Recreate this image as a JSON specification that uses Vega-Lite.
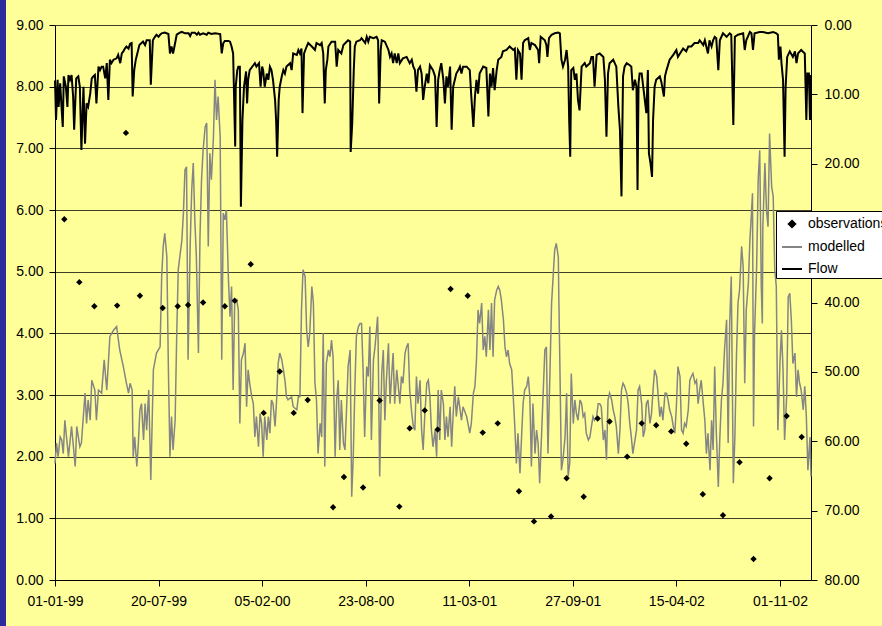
{
"$schema": "https://vega.github.io/schema/vega-lite/v6.json",
"width": 756, "height": 555,
"autosize": {"type": "none"},
"padding": {"left": 55, "top": 25, "right": 71, "bottom": 46},
"background": "#FFFF99",
"config": {
  "view": {"stroke": null},
  "font": "Liberation Sans",
  "axis": {"labelFont": "Liberation Sans", "labelFontSize": 14, "labelColor": "#000000", "domainColor": "#000000", "tickColor": "#000000", "tickSize": 6, "title": null, "domainWidth": 1, "tickWidth": 1},
  "legend": {"labelFont": "Liberation Sans", "labelFontSize": 14, "labelColor": "#000000"}
},
"datasets": {
"obs": [{"day":18,"value":5.85},{"day":47,"value":4.83},{"day":76,"value":4.44},{"day":120,"value":4.45},{"day":137,"value":7.25},{"day":164,"value":4.61},{"day":208,"value":4.41},{"day":237,"value":4.44},{"day":257,"value":4.46},{"day":286,"value":4.5},{"day":328,"value":4.44},{"day":347,"value":4.53},{"day":378,"value":5.12},{"day":403,"value":2.71},{"day":434,"value":3.38},{"day":461,"value":2.71},{"day":488,"value":2.92},{"day":537,"value":1.18},{"day":558,"value":1.67},{"day":595,"value":1.5},{"day":627,"value":2.91},{"day":665,"value":1.19},{"day":685,"value":2.46},{"day":714,"value":2.75},{"day":739,"value":2.44},{"day":764,"value":4.72},{"day":797,"value":4.61},{"day":826,"value":2.39},{"day":855,"value":2.54},{"day":896,"value":1.44},{"day":925,"value":0.95},{"day":958,"value":1.03},{"day":988,"value":1.65},{"day":1021,"value":1.35},{"day":1048,"value":2.62},{"day":1071,"value":2.57},{"day":1105,"value":2.0},{"day":1133,"value":2.54},{"day":1161,"value":2.51},{"day":1190,"value":2.41},{"day":1219,"value":2.21},{"day":1251,"value":1.39},{"day":1290,"value":1.05},{"day":1322,"value":1.91},{"day":1349,"value":0.34},{"day":1380,"value":1.65},{"day":1413,"value":2.66},{"day":1442,"value":2.32}],
"modelled": [{"day":0,"value":1.89},{"day":3,"value":2.22},{"day":6,"value":2.0},{"day":10,"value":2.32},{"day":13,"value":2.27},{"day":16,"value":2.05},{"day":19,"value":2.59},{"day":26,"value":2.0},{"day":32,"value":2.49},{"day":39,"value":1.84},{"day":42,"value":2.49},{"day":48,"value":2.16},{"day":51,"value":2.22},{"day":58,"value":3.03},{"day":61,"value":2.54},{"day":64,"value":2.92},{"day":68,"value":2.59},{"day":71,"value":3.24},{"day":77,"value":3.08},{"day":80,"value":2.59},{"day":84,"value":3.08},{"day":90,"value":3.03},{"day":95,"value":3.57},{"day":100,"value":3.08},{"day":106,"value":3.95},{"day":113,"value":4.05},{"day":119,"value":4.11},{"day":125,"value":3.73},{"day":132,"value":3.46},{"day":138,"value":3.19},{"day":142,"value":3.03},{"day":145,"value":3.19},{"day":149,"value":3.08},{"day":151,"value":2.0},{"day":154,"value":2.32},{"day":158,"value":1.84},{"day":161,"value":2.22},{"day":164,"value":2.76},{"day":167,"value":2.86},{"day":171,"value":2.27},{"day":174,"value":2.86},{"day":177,"value":2.43},{"day":181,"value":3.08},{"day":185,"value":1.62},{"day":190,"value":3.41},{"day":196,"value":3.68},{"day":203,"value":3.78},{"day":206,"value":4.92},{"day":209,"value":5.41},{"day":212,"value":5.62},{"day":216,"value":5.24},{"day":219,"value":3.41},{"day":222,"value":2.0},{"day":225,"value":2.65},{"day":228,"value":2.11},{"day":232,"value":2.59},{"day":235,"value":3.95},{"day":238,"value":5.03},{"day":245,"value":5.51},{"day":248,"value":5.95},{"day":251,"value":6.65},{"day":254,"value":6.7},{"day":257,"value":3.57},{"day":261,"value":5.41},{"day":264,"value":6.32},{"day":267,"value":6.76},{"day":270,"value":5.84},{"day":273,"value":5.24},{"day":277,"value":3.68},{"day":280,"value":5.57},{"day":283,"value":6.49},{"day":286,"value":6.97},{"day":290,"value":7.35},{"day":293,"value":7.41},{"day":296,"value":5.41},{"day":299,"value":6.92},{"day":302,"value":6.49},{"day":306,"value":7.19},{"day":309,"value":8.11},{"day":312,"value":7.46},{"day":315,"value":7.84},{"day":319,"value":7.19},{"day":322,"value":3.57},{"day":325,"value":5.95},{"day":328,"value":5.84},{"day":331,"value":6.0},{"day":335,"value":4.86},{"day":338,"value":4.27},{"day":341,"value":4.76},{"day":344,"value":3.08},{"day":347,"value":4.49},{"day":351,"value":4.54},{"day":354,"value":4.38},{"day":357,"value":2.54},{"day":360,"value":3.57},{"day":364,"value":3.68},{"day":367,"value":3.84},{"day":370,"value":2.81},{"day":373,"value":3.41},{"day":376,"value":3.19},{"day":380,"value":2.97},{"day":383,"value":2.86},{"day":386,"value":2.32},{"day":389,"value":2.65},{"day":393,"value":2.16},{"day":396,"value":2.7},{"day":399,"value":2.54},{"day":402,"value":2.0},{"day":405,"value":2.65},{"day":409,"value":2.27},{"day":412,"value":2.65},{"day":415,"value":2.38},{"day":418,"value":2.92},{"day":421,"value":2.86},{"day":425,"value":2.49},{"day":428,"value":2.92},{"day":431,"value":3.51},{"day":434,"value":3.68},{"day":438,"value":3.57},{"day":441,"value":3.41},{"day":444,"value":3.24},{"day":447,"value":2.97},{"day":450,"value":2.92},{"day":457,"value":2.97},{"day":460,"value":2.81},{"day":467,"value":2.76},{"day":470,"value":2.97},{"day":473,"value":2.97},{"day":476,"value":4.38},{"day":479,"value":5.03},{"day":483,"value":4.92},{"day":486,"value":4.05},{"day":489,"value":3.78},{"day":492,"value":4.0},{"day":496,"value":4.76},{"day":499,"value":4.49},{"day":502,"value":3.19},{"day":505,"value":2.92},{"day":508,"value":2.05},{"day":512,"value":2.54},{"day":515,"value":2.32},{"day":518,"value":4.0},{"day":521,"value":1.84},{"day":524,"value":3.51},{"day":528,"value":3.73},{"day":531,"value":3.62},{"day":534,"value":3.89},{"day":537,"value":3.62},{"day":541,"value":2.0},{"day":544,"value":2.92},{"day":547,"value":3.24},{"day":550,"value":2.11},{"day":553,"value":2.92},{"day":557,"value":2.22},{"day":560,"value":2.11},{"day":563,"value":2.76},{"day":566,"value":3.46},{"day":570,"value":3.73},{"day":573,"value":1.35},{"day":576,"value":2.0},{"day":579,"value":3.08},{"day":582,"value":3.95},{"day":586,"value":4.11},{"day":589,"value":4.16},{"day":592,"value":4.16},{"day":595,"value":3.41},{"day":598,"value":2.32},{"day":602,"value":3.46},{"day":605,"value":3.3},{"day":608,"value":4.11},{"day":611,"value":2.27},{"day":615,"value":3.57},{"day":618,"value":3.78},{"day":623,"value":4.27},{"day":624,"value":3.89},{"day":627,"value":1.68},{"day":631,"value":3.35},{"day":634,"value":3.73},{"day":637,"value":2.59},{"day":640,"value":3.24},{"day":644,"value":3.84},{"day":647,"value":2.86},{"day":650,"value":3.3},{"day":653,"value":3.68},{"day":656,"value":2.86},{"day":660,"value":3.41},{"day":663,"value":3.14},{"day":666,"value":2.86},{"day":669,"value":3.3},{"day":672,"value":3.19},{"day":676,"value":3.68},{"day":679,"value":3.78},{"day":682,"value":3.84},{"day":685,"value":3.08},{"day":689,"value":2.7},{"day":692,"value":2.49},{"day":695,"value":2.43},{"day":698,"value":3.3},{"day":701,"value":2.86},{"day":705,"value":3.24},{"day":708,"value":2.43},{"day":711,"value":2.11},{"day":714,"value":2.65},{"day":718,"value":3.19},{"day":721,"value":3.24},{"day":724,"value":2.97},{"day":727,"value":2.43},{"day":730,"value":2.16},{"day":734,"value":2.43},{"day":737,"value":2.0},{"day":740,"value":3.08},{"day":743,"value":2.27},{"day":746,"value":3.08},{"day":750,"value":2.86},{"day":753,"value":2.27},{"day":756,"value":2.65},{"day":759,"value":2.32},{"day":763,"value":2.81},{"day":766,"value":2.16},{"day":769,"value":2.7},{"day":772,"value":3.14},{"day":775,"value":2.65},{"day":779,"value":2.97},{"day":785,"value":2.59},{"day":788,"value":2.81},{"day":795,"value":2.65},{"day":801,"value":2.38},{"day":804,"value":2.54},{"day":808,"value":3.03},{"day":811,"value":3.14},{"day":814,"value":3.57},{"day":817,"value":4.38},{"day":820,"value":4.16},{"day":824,"value":4.49},{"day":827,"value":3.73},{"day":830,"value":3.95},{"day":833,"value":3.62},{"day":837,"value":4.38},{"day":840,"value":3.73},{"day":843,"value":4.49},{"day":846,"value":3.62},{"day":849,"value":4.54},{"day":853,"value":4.7},{"day":856,"value":4.76},{"day":859,"value":4.7},{"day":862,"value":4.54},{"day":866,"value":4.22},{"day":869,"value":3.78},{"day":872,"value":3.62},{"day":875,"value":3.73},{"day":878,"value":3.51},{"day":882,"value":3.41},{"day":885,"value":2.97},{"day":888,"value":2.49},{"day":891,"value":1.89},{"day":894,"value":2.38},{"day":898,"value":1.73},{"day":901,"value":2.32},{"day":904,"value":2.86},{"day":907,"value":3.08},{"day":911,"value":3.14},{"day":914,"value":3.3},{"day":917,"value":2.97},{"day":920,"value":1.84},{"day":923,"value":2.86},{"day":927,"value":2.05},{"day":930,"value":2.43},{"day":933,"value":2.22},{"day":936,"value":1.57},{"day":940,"value":2.43},{"day":943,"value":3.08},{"day":946,"value":3.73},{"day":949,"value":3.78},{"day":952,"value":2.05},{"day":956,"value":3.41},{"day":959,"value":4.49},{"day":962,"value":4.92},{"day":965,"value":5.35},{"day":968,"value":5.46},{"day":972,"value":5.24},{"day":973,"value":4.59},{"day":975,"value":3.51},{"day":978,"value":1.78},{"day":981,"value":1.95},{"day":985,"value":2.32},{"day":988,"value":3.03},{"day":991,"value":1.68},{"day":994,"value":1.89},{"day":997,"value":3.35},{"day":1001,"value":2.54},{"day":1004,"value":2.92},{"day":1007,"value":2.7},{"day":1010,"value":2.59},{"day":1014,"value":2.92},{"day":1017,"value":2.86},{"day":1020,"value":2.65},{"day":1023,"value":2.7},{"day":1026,"value":2.38},{"day":1030,"value":2.27},{"day":1033,"value":2.32},{"day":1036,"value":2.49},{"day":1039,"value":2.65},{"day":1042,"value":2.59},{"day":1046,"value":2.65},{"day":1049,"value":2.86},{"day":1052,"value":2.86},{"day":1055,"value":2.81},{"day":1059,"value":2.27},{"day":1062,"value":2.43},{"day":1065,"value":1.95},{"day":1068,"value":2.92},{"day":1071,"value":3.03},{"day":1075,"value":2.92},{"day":1078,"value":2.76},{"day":1081,"value":2.65},{"day":1084,"value":2.49},{"day":1088,"value":2.05},{"day":1091,"value":2.43},{"day":1094,"value":3.08},{"day":1097,"value":3.19},{"day":1100,"value":3.14},{"day":1104,"value":3.03},{"day":1107,"value":2.86},{"day":1110,"value":2.54},{"day":1113,"value":2.32},{"day":1116,"value":2.05},{"day":1120,"value":2.27},{"day":1123,"value":2.43},{"day":1126,"value":3.08},{"day":1129,"value":3.14},{"day":1133,"value":2.86},{"day":1136,"value":2.32},{"day":1139,"value":2.43},{"day":1142,"value":2.86},{"day":1145,"value":2.92},{"day":1149,"value":2.54},{"day":1152,"value":2.7},{"day":1155,"value":3.08},{"day":1158,"value":3.41},{"day":1162,"value":3.3},{"day":1165,"value":2.97},{"day":1168,"value":2.65},{"day":1171,"value":2.81},{"day":1174,"value":2.59},{"day":1178,"value":3.03},{"day":1181,"value":3.03},{"day":1184,"value":2.92},{"day":1187,"value":2.76},{"day":1191,"value":2.65},{"day":1194,"value":2.49},{"day":1197,"value":2.38},{"day":1200,"value":2.81},{"day":1203,"value":3.46},{"day":1207,"value":3.3},{"day":1210,"value":2.43},{"day":1213,"value":2.38},{"day":1216,"value":2.54},{"day":1219,"value":2.49},{"day":1223,"value":2.76},{"day":1226,"value":3.24},{"day":1229,"value":3.3},{"day":1232,"value":3.35},{"day":1236,"value":3.19},{"day":1239,"value":3.24},{"day":1242,"value":2.86},{"day":1245,"value":3.08},{"day":1248,"value":3.24},{"day":1252,"value":2.86},{"day":1255,"value":2.59},{"day":1258,"value":2.05},{"day":1261,"value":2.38},{"day":1265,"value":1.78},{"day":1268,"value":2.59},{"day":1271,"value":2.11},{"day":1274,"value":3.46},{"day":1277,"value":2.43},{"day":1281,"value":1.51},{"day":1284,"value":2.32},{"day":1287,"value":2.92},{"day":1290,"value":3.19},{"day":1293,"value":3.73},{"day":1297,"value":4.22},{"day":1300,"value":2.22},{"day":1303,"value":4.16},{"day":1306,"value":4.92},{"day":1310,"value":1.57},{"day":1313,"value":2.32},{"day":1316,"value":3.62},{"day":1319,"value":4.49},{"day":1322,"value":4.7},{"day":1326,"value":5.41},{"day":1329,"value":5.08},{"day":1332,"value":3.19},{"day":1335,"value":4.38},{"day":1339,"value":4.81},{"day":1342,"value":5.51},{"day":1345,"value":5.95},{"day":1347,"value":6.27},{"day":1349,"value":2.49},{"day":1351,"value":4.0},{"day":1355,"value":5.08},{"day":1358,"value":6.49},{"day":1361,"value":6.97},{"day":1364,"value":4.76},{"day":1366,"value":4.16},{"day":1367,"value":5.73},{"day":1371,"value":6.76},{"day":1374,"value":6.0},{"day":1377,"value":5.73},{"day":1380,"value":7.24},{"day":1384,"value":6.38},{"day":1387,"value":6.22},{"day":1390,"value":5.03},{"day":1393,"value":4.76},{"day":1396,"value":2.43},{"day":1400,"value":3.51},{"day":1403,"value":4.05},{"day":1406,"value":3.41},{"day":1409,"value":2.27},{"day":1413,"value":2.97},{"day":1416,"value":4.59},{"day":1419,"value":4.65},{"day":1422,"value":4.22},{"day":1425,"value":3.51},{"day":1429,"value":3.68},{"day":1432,"value":2.97},{"day":1435,"value":3.41},{"day":1438,"value":3.19},{"day":1441,"value":3.08},{"day":1445,"value":2.76},{"day":1448,"value":3.14},{"day":1451,"value":2.65},{"day":1454,"value":1.78},{"day":1458,"value":2.32},{"day":1460,"value":1.68}],
"flow": [{"day":0,"flow":8.0},{"day":2,"flow":13.7},{"day":5,"flow":7.9},{"day":7,"flow":11.8},{"day":10,"flow":8.4},{"day":13,"flow":12.3},{"day":15,"flow":14.7},{"day":17,"flow":7.4},{"day":21,"flow":8.9},{"day":24,"flow":11.8},{"day":26,"flow":7.2},{"day":29,"flow":7.9},{"day":32,"flow":7.2},{"day":35,"flow":10.3},{"day":37,"flow":15.1},{"day":41,"flow":7.7},{"day":45,"flow":7.4},{"day":48,"flow":8.9},{"day":51,"flow":18.0},{"day":55,"flow":8.9},{"day":58,"flow":17.1},{"day":61,"flow":11.3},{"day":64,"flow":11.8},{"day":68,"flow":9.9},{"day":71,"flow":7.7},{"day":74,"flow":7.4},{"day":77,"flow":7.2},{"day":80,"flow":11.3},{"day":84,"flow":6.0},{"day":87,"flow":6.5},{"day":90,"flow":6.0},{"day":93,"flow":6.0},{"day":97,"flow":7.7},{"day":100,"flow":5.5},{"day":103,"flow":10.8},{"day":106,"flow":5.0},{"day":109,"flow":5.5},{"day":113,"flow":5.0},{"day":119,"flow":4.8},{"day":122,"flow":4.3},{"day":126,"flow":5.5},{"day":129,"flow":4.1},{"day":132,"flow":3.8},{"day":135,"flow":3.4},{"day":138,"flow":3.1},{"day":142,"flow":3.4},{"day":145,"flow":2.7},{"day":148,"flow":2.6},{"day":150,"flow":10.3},{"day":153,"flow":6.5},{"day":156,"flow":5.0},{"day":159,"flow":4.1},{"day":163,"flow":2.9},{"day":167,"flow":2.6},{"day":170,"flow":2.4},{"day":174,"flow":2.9},{"day":177,"flow":2.2},{"day":183,"flow":2.2},{"day":185,"flow":8.6},{"day":189,"flow":2.2},{"day":193,"flow":1.7},{"day":196,"flow":1.4},{"day":200,"flow":1.7},{"day":203,"flow":1.4},{"day":206,"flow":1.2},{"day":212,"flow":1.1},{"day":219,"flow":1.3},{"day":222,"flow":4.1},{"day":225,"flow":3.1},{"day":228,"flow":4.1},{"day":232,"flow":2.6},{"day":235,"flow":1.4},{"day":241,"flow":1.1},{"day":245,"flow":1.0},{"day":251,"flow":1.2},{"day":258,"flow":1.2},{"day":261,"flow":1.6},{"day":264,"flow":1.1},{"day":270,"flow":1.1},{"day":274,"flow":1.4},{"day":277,"flow":1.1},{"day":280,"flow":1.4},{"day":286,"flow":1.2},{"day":293,"flow":1.4},{"day":296,"flow":1.1},{"day":302,"flow":1.3},{"day":309,"flow":1.2},{"day":319,"flow":1.3},{"day":322,"flow":4.1},{"day":325,"flow":2.6},{"day":328,"flow":2.3},{"day":335,"flow":2.3},{"day":338,"flow":2.4},{"day":341,"flow":3.1},{"day":344,"flow":4.1},{"day":348,"flow":17.5},{"day":349,"flow":8.9},{"day":352,"flow":6.5},{"day":354,"flow":6.0},{"day":357,"flow":6.0},{"day":359,"flow":26.2},{"day":362,"flow":13.7},{"day":365,"flow":8.9},{"day":369,"flow":6.7},{"day":371,"flow":11.3},{"day":373,"flow":7.9},{"day":376,"flow":6.5},{"day":383,"flow":5.8},{"day":386,"flow":5.5},{"day":389,"flow":6.0},{"day":394,"flow":5.5},{"day":397,"flow":8.9},{"day":400,"flow":6.0},{"day":402,"flow":6.5},{"day":405,"flow":8.9},{"day":409,"flow":7.0},{"day":412,"flow":7.9},{"day":415,"flow":6.0},{"day":418,"flow":6.5},{"day":421,"flow":7.9},{"day":425,"flow":10.8},{"day":427,"flow":13.7},{"day":429,"flow":19.0},{"day":432,"flow":10.8},{"day":434,"flow":8.9},{"day":438,"flow":7.4},{"day":441,"flow":6.5},{"day":444,"flow":7.0},{"day":447,"flow":6.0},{"day":454,"flow":5.5},{"day":457,"flow":6.5},{"day":460,"flow":4.1},{"day":467,"flow":4.3},{"day":470,"flow":3.6},{"day":473,"flow":4.1},{"day":476,"flow":3.4},{"day":478,"flow":12.7},{"day":481,"flow":4.1},{"day":486,"flow":3.1},{"day":489,"flow":2.6},{"day":496,"flow":3.1},{"day":502,"flow":3.6},{"day":505,"flow":2.6},{"day":512,"flow":2.9},{"day":515,"flow":2.6},{"day":518,"flow":4.1},{"day":521,"flow":11.3},{"day":523,"flow":6.5},{"day":526,"flow":5.0},{"day":528,"flow":3.1},{"day":534,"flow":2.4},{"day":541,"flow":2.4},{"day":544,"flow":6.0},{"day":547,"flow":3.6},{"day":553,"flow":4.1},{"day":557,"flow":2.9},{"day":566,"flow":2.2},{"day":570,"flow":2.4},{"day":571,"flow":18.3},{"day":574,"flow":14.2},{"day":577,"flow":6.5},{"day":579,"flow":3.1},{"day":582,"flow":2.4},{"day":589,"flow":2.2},{"day":592,"flow":1.9},{"day":599,"flow":2.6},{"day":602,"flow":1.7},{"day":605,"flow":2.4},{"day":608,"flow":1.7},{"day":615,"flow":1.9},{"day":621,"flow":1.7},{"day":624,"flow":2.2},{"day":626,"flow":11.3},{"day":629,"flow":3.6},{"day":631,"flow":2.2},{"day":637,"flow":2.4},{"day":644,"flow":3.6},{"day":647,"flow":4.6},{"day":650,"flow":4.1},{"day":653,"flow":5.5},{"day":656,"flow":4.1},{"day":660,"flow":5.5},{"day":663,"flow":4.1},{"day":666,"flow":5.5},{"day":672,"flow":4.8},{"day":679,"flow":4.6},{"day":685,"flow":5.5},{"day":689,"flow":5.0},{"day":692,"flow":6.0},{"day":695,"flow":6.5},{"day":698,"flow":9.6},{"day":701,"flow":6.5},{"day":705,"flow":6.0},{"day":708,"flow":7.0},{"day":711,"flow":10.8},{"day":714,"flow":8.9},{"day":718,"flow":7.0},{"day":721,"flow":8.4},{"day":724,"flow":5.8},{"day":730,"flow":6.5},{"day":734,"flow":7.4},{"day":737,"flow":14.7},{"day":740,"flow":7.9},{"day":743,"flow":6.5},{"day":746,"flow":5.5},{"day":750,"flow":7.9},{"day":753,"flow":11.3},{"day":756,"flow":7.4},{"day":759,"flow":8.9},{"day":763,"flow":6.0},{"day":766,"flow":15.1},{"day":769,"flow":8.9},{"day":775,"flow":7.0},{"day":779,"flow":6.5},{"day":782,"flow":6.0},{"day":785,"flow":7.0},{"day":788,"flow":6.0},{"day":795,"flow":6.0},{"day":801,"flow":6.5},{"day":804,"flow":10.3},{"day":808,"flow":14.7},{"day":811,"flow":10.3},{"day":814,"flow":7.9},{"day":817,"flow":9.9},{"day":820,"flow":7.0},{"day":827,"flow":6.0},{"day":833,"flow":6.2},{"day":837,"flow":13.2},{"day":840,"flow":7.0},{"day":843,"flow":8.9},{"day":846,"flow":6.2},{"day":849,"flow":9.4},{"day":853,"flow":6.5},{"day":856,"flow":5.0},{"day":862,"flow":4.6},{"day":865,"flow":3.8},{"day":872,"flow":3.6},{"day":878,"flow":3.1},{"day":885,"flow":3.6},{"day":888,"flow":3.4},{"day":891,"flow":7.9},{"day":894,"flow":3.6},{"day":898,"flow":4.1},{"day":901,"flow":7.9},{"day":904,"flow":2.6},{"day":907,"flow":2.2},{"day":914,"flow":1.9},{"day":917,"flow":3.6},{"day":920,"flow":2.6},{"day":927,"flow":2.9},{"day":933,"flow":3.6},{"day":935,"flow":5.5},{"day":938,"flow":1.7},{"day":946,"flow":2.2},{"day":949,"flow":2.9},{"day":951,"flow":4.6},{"day":954,"flow":1.9},{"day":959,"flow":1.4},{"day":965,"flow":1.2},{"day":972,"flow":1.1},{"day":975,"flow":1.2},{"day":978,"flow":5.0},{"day":981,"flow":6.0},{"day":985,"flow":5.0},{"day":988,"flow":3.6},{"day":991,"flow":6.0},{"day":993,"flow":13.7},{"day":995,"flow":19.0},{"day":997,"flow":6.5},{"day":1001,"flow":6.2},{"day":1004,"flow":7.9},{"day":1007,"flow":7.0},{"day":1010,"flow":10.8},{"day":1013,"flow":12.3},{"day":1017,"flow":6.0},{"day":1023,"flow":5.5},{"day":1026,"flow":6.0},{"day":1033,"flow":5.5},{"day":1036,"flow":4.6},{"day":1039,"flow":4.6},{"day":1042,"flow":8.9},{"day":1046,"flow":4.3},{"day":1052,"flow":4.1},{"day":1059,"flow":4.6},{"day":1062,"flow":7.9},{"day":1065,"flow":16.1},{"day":1068,"flow":7.0},{"day":1071,"flow":5.5},{"day":1078,"flow":5.0},{"day":1084,"flow":6.0},{"day":1088,"flow":11.8},{"day":1091,"flow":15.1},{"day":1094,"flow":24.7},{"day":1097,"flow":7.4},{"day":1100,"flow":6.0},{"day":1104,"flow":5.5},{"day":1110,"flow":5.8},{"day":1113,"flow":6.0},{"day":1116,"flow":9.4},{"day":1120,"flow":7.9},{"day":1123,"flow":8.9},{"day":1125,"flow":23.8},{"day":1127,"flow":8.4},{"day":1129,"flow":7.0},{"day":1133,"flow":7.0},{"day":1136,"flow":8.9},{"day":1139,"flow":10.8},{"day":1142,"flow":12.7},{"day":1145,"flow":6.5},{"day":1147,"flow":18.5},{"day":1150,"flow":19.9},{"day":1153,"flow":21.9},{"day":1155,"flow":13.7},{"day":1158,"flow":8.9},{"day":1161,"flow":7.9},{"day":1168,"flow":7.4},{"day":1171,"flow":8.2},{"day":1176,"flow":10.3},{"day":1178,"flow":7.4},{"day":1181,"flow":6.5},{"day":1187,"flow":5.0},{"day":1194,"flow":4.3},{"day":1200,"flow":3.6},{"day":1203,"flow":4.6},{"day":1207,"flow":4.1},{"day":1213,"flow":3.4},{"day":1219,"flow":3.8},{"day":1223,"flow":3.1},{"day":1229,"flow":3.1},{"day":1235,"flow":2.6},{"day":1242,"flow":2.6},{"day":1245,"flow":2.2},{"day":1252,"flow":2.9},{"day":1255,"flow":2.2},{"day":1261,"flow":4.1},{"day":1264,"flow":2.2},{"day":1268,"flow":3.1},{"day":1271,"flow":2.2},{"day":1274,"flow":1.7},{"day":1277,"flow":1.9},{"day":1281,"flow":6.5},{"day":1284,"flow":2.2},{"day":1290,"flow":1.2},{"day":1297,"flow":1.7},{"day":1303,"flow":1.2},{"day":1306,"flow":1.4},{"day":1310,"flow":14.4},{"day":1313,"flow":1.7},{"day":1319,"flow":1.4},{"day":1329,"flow":1.2},{"day":1332,"flow":3.6},{"day":1335,"flow":2.2},{"day":1342,"flow":1.0},{"day":1345,"flow":1.2},{"day":1348,"flow":3.6},{"day":1351,"flow":1.2},{"day":1361,"flow":1.0},{"day":1367,"flow":1.0},{"day":1377,"flow":1.2},{"day":1387,"flow":1.0},{"day":1393,"flow":1.2},{"day":1396,"flow":1.4},{"day":1398,"flow":5.0},{"day":1401,"flow":3.1},{"day":1403,"flow":5.5},{"day":1406,"flow":7.9},{"day":1409,"flow":19.0},{"day":1411,"flow":8.9},{"day":1414,"flow":4.6},{"day":1419,"flow":3.8},{"day":1425,"flow":4.6},{"day":1429,"flow":3.8},{"day":1432,"flow":5.5},{"day":1435,"flow":4.1},{"day":1441,"flow":3.6},{"day":1448,"flow":4.1},{"day":1451,"flow":13.7},{"day":1453,"flow":7.0},{"day":1456,"flow":7.0},{"day":1458,"flow":13.7},{"day":1460,"flow":7.2}]
},
"layer": [
  {
    "layer": [
      {
        "data": {"name": "modelled"},
        "mark": {"type": "line", "strokeWidth": 1.5},
        "encoding": {
          "x": {"field": "day", "type": "quantitative", "scale": {"domain": [0, 1460], "nice": false, "zero": false},
                "axis": {"values": [0, 200, 400, 600, 800, 1000, 1200, 1400], "labelExpr": "timeFormat(datetime(1999, 0, 1 + datum.value), '%d-%m-%y')", "grid": false, "labelFlush": false, "labelPadding": 8, "labelOverlap": false}},
          "y": {"field": "value", "type": "quantitative", "scale": {"domain": [0, 9], "nice": false, "zero": false},
                "axis": {"orient": "left", "values": [0,1,2,3,4,5,6,7,8,9], "format": ".2f", "grid": true, "gridColor": "#000000", "gridOpacity": 0.75, "labelPadding": 6}},
          "color": {"datum": "modelled", "scale": {"domain": ["observations", "modelled", "Flow"], "range": ["#000000", "#858585", "#000000"]},
                    "legend": {"title": null, "orient": "none", "legendX": 721, "legendY": 186, "fillColor": "#FFFFFF", "strokeColor": "#000000", "padding": 2, "symbolOffset": 3, "symbolSize": 400, "symbolStrokeWidth": 2, "rowPadding": 4, "labelOffset": 5}}
        }
      },
      {
        "data": {"name": "obs"},
        "mark": {"type": "point", "filled": true, "size": 400, "opacity": 1, "strokeWidth": 0},
        "encoding": {
          "x": {"field": "day", "type": "quantitative"},
          "y": {"field": "value", "type": "quantitative"},
          "color": {"datum": "observations"},
          "shape": {"datum": "observations", "scale": {"domain": ["observations", "modelled", "Flow"], "range": ["M0,-0.32L0.32,0L0,0.32L-0.32,0Z", "stroke", "stroke"]}},
          "stroke": {"field": "value", "type": "quantitative", "scale": {"range": ["#2D2A9E", "#2D2A9E"]},
                     "legend": {"title": null, "orient": "none", "legendX": -55, "legendY": -25, "direction": "vertical", "gradientLength": 626, "gradientThickness": 6, "gradientStrokeWidth": 0, "labelExpr": "''", "labelOpacity": 0, "labelFontSize": 1, "labelOffset": 0, "labelOverlap": false, "padding": 0}}
        }
      }
    ]
  },
  {
    "data": {"name": "flow"},
    "mark": {"type": "line", "strokeWidth": 2},
    "encoding": {
      "x": {"field": "day", "type": "quantitative"},
      "y": {"field": "flow", "type": "quantitative", "scale": {"domain": [0, 80], "reverse": true, "nice": false, "zero": false},
            "axis": {"orient": "right", "values": [0,10,20,30,40,50,60,70,80], "format": ".2f", "grid": false, "labelPadding": 7}},
      "color": {"datum": "Flow"}
    }
  }
],
"resolve": {"scale": {"y": "independent"}}
}
